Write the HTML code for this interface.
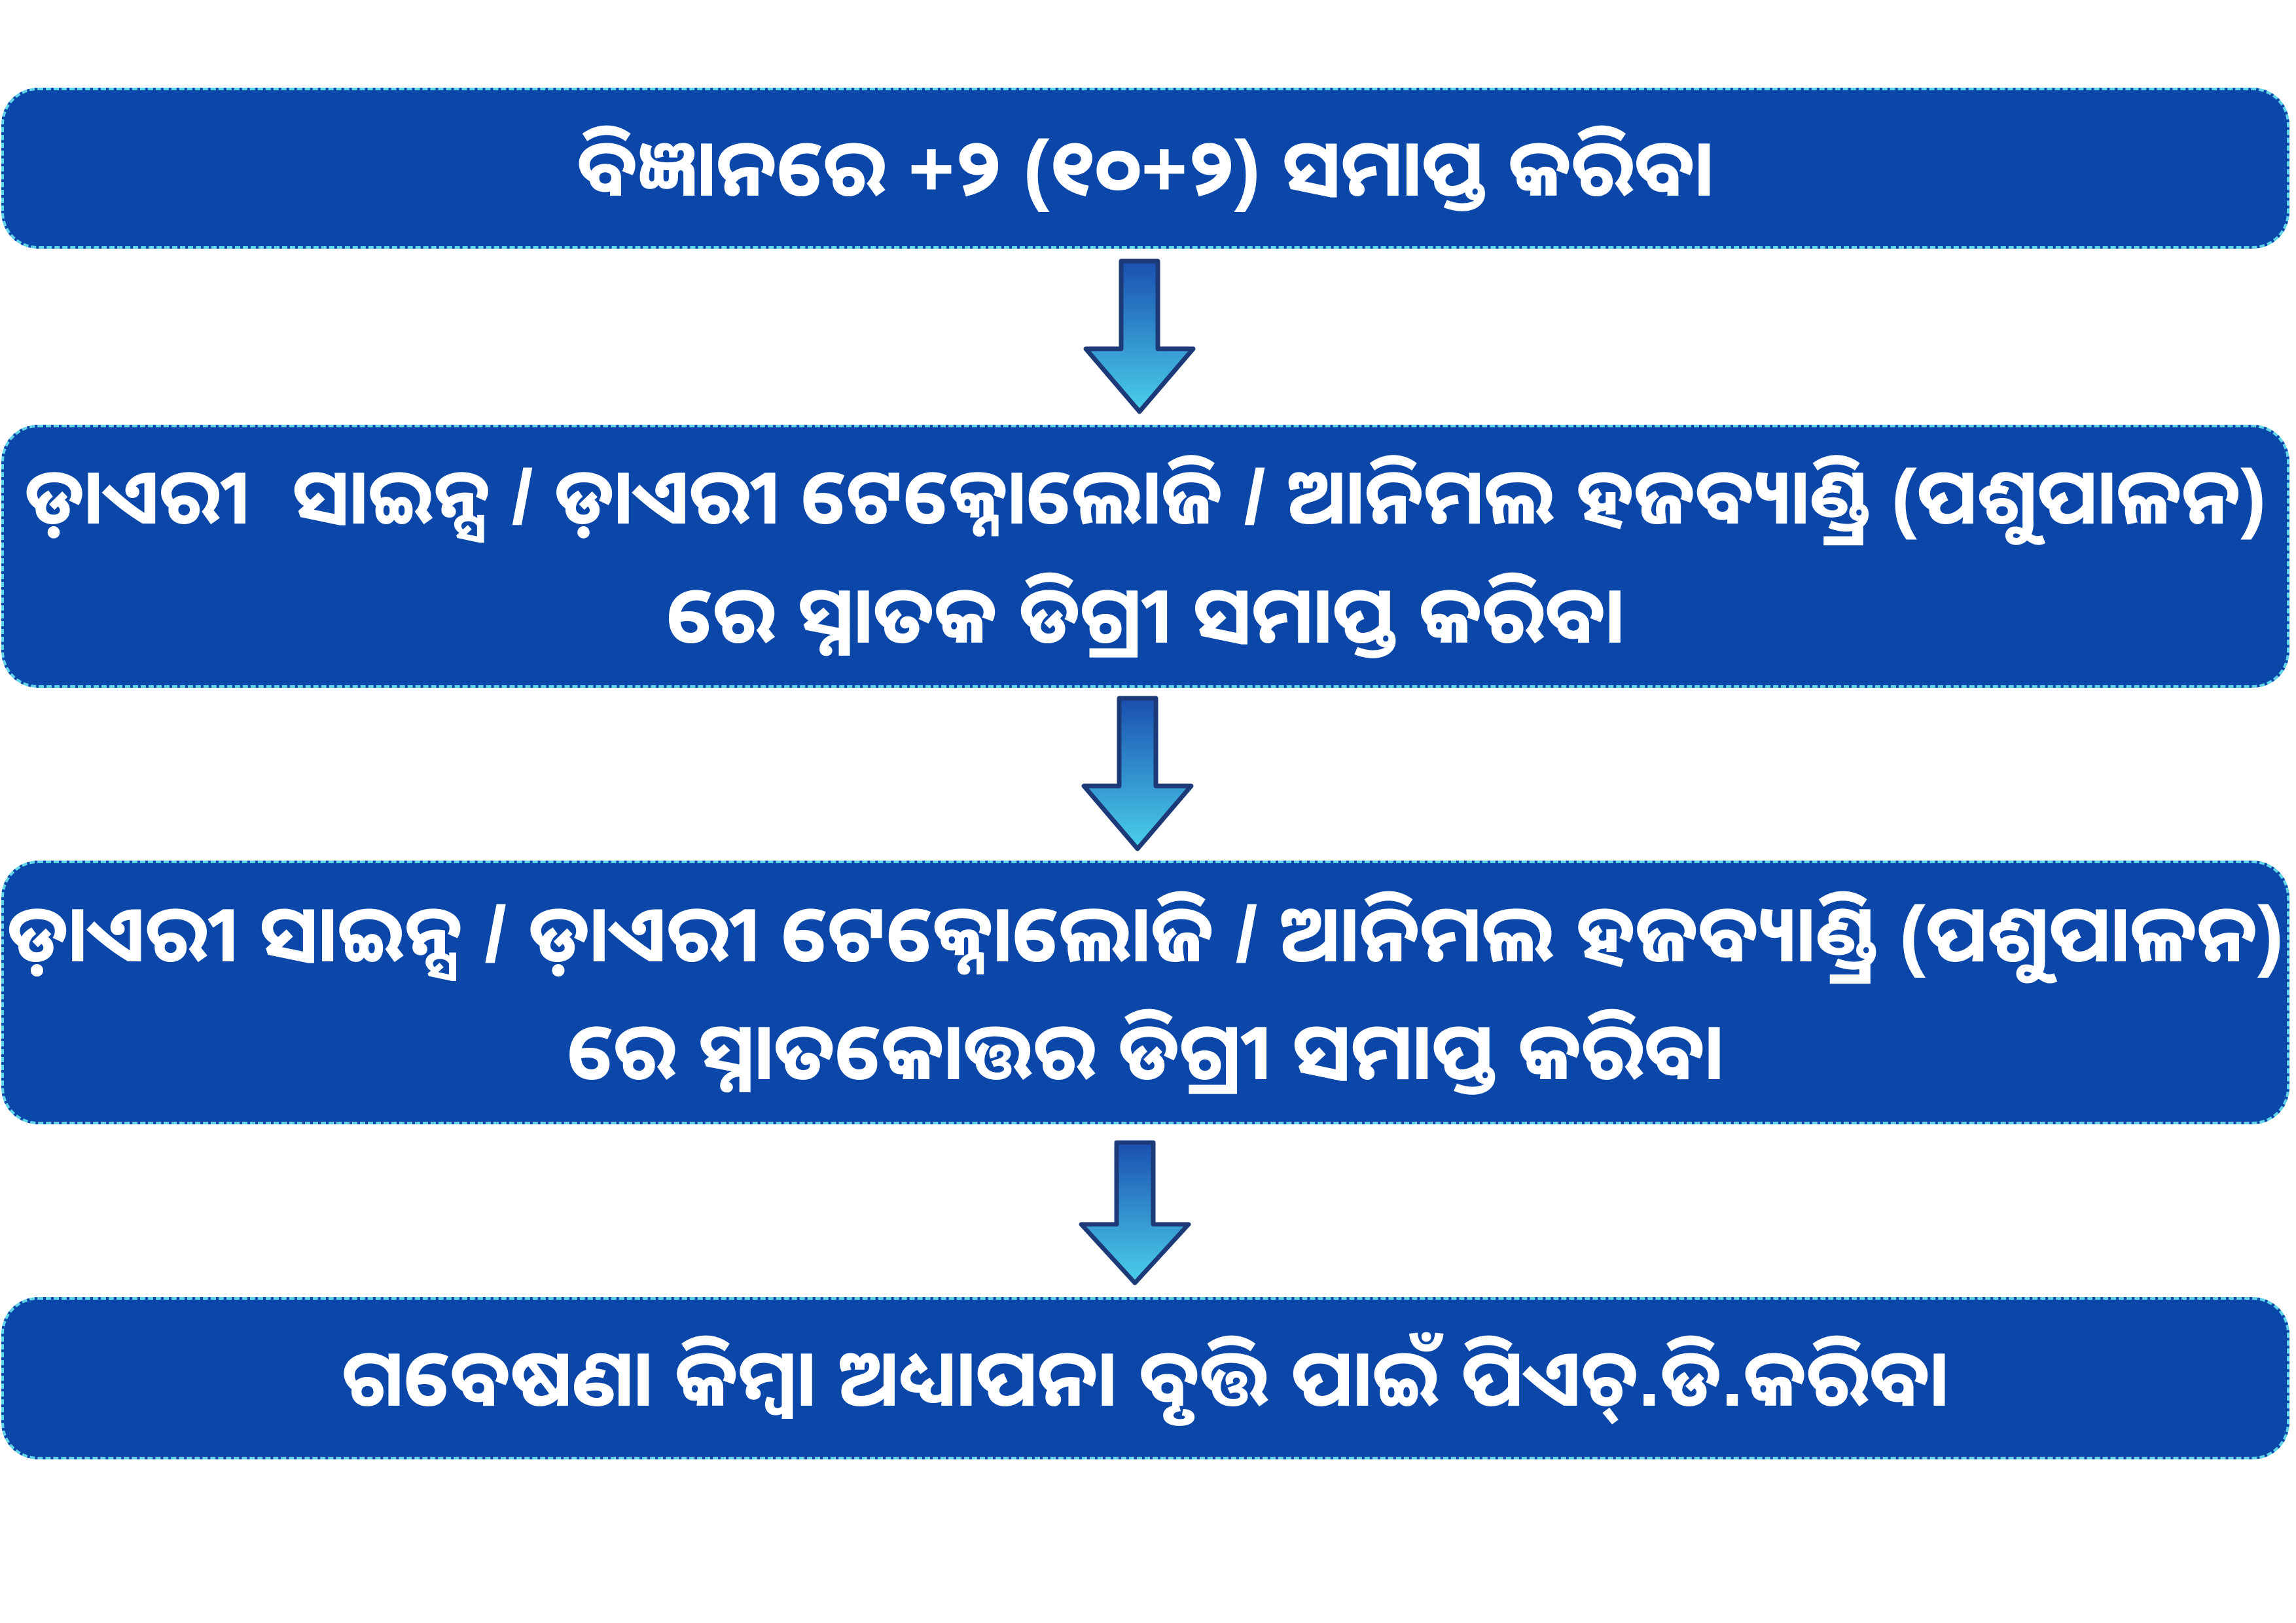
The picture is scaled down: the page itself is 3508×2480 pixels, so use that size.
<!DOCTYPE html>
<html><head><meta charset="utf-8">
<style>
html,body{margin:0;padding:0;background:#fff;}
body{width:3508px;height:2480px;position:relative;overflow:hidden;font-family:"Liberation Sans","Noto Sans Oriya","Noto Sans CJK SC",sans-serif;}
.box{position:absolute;left:2px;width:3496px;background:#0a47a8;border:4px dashed #5fd3e8;border-radius:56px;box-sizing:border-box;color:#fff;font-weight:bold;text-align:center;display:flex;flex-direction:column;justify-content:center;align-items:center;overflow:hidden;}
.box div{font-size:121px;line-height:180px;white-space:nowrap;}
svg{position:absolute;}
</style></head><body>
<div class="box" style="top:134px;height:246px;"><div>ବିଜ୍ଞାନରେ +୨ (୧୦+୨) ସମାପ୍ତ କରିବା</div></div>
<div class="box" style="top:649px;height:402px;"><div style="font-size:118px">ଡ଼ାଏରୀ&nbsp; ସାଇନ୍ସ / ଡ଼ାଏରୀ ଟେକ୍ନୋଲୋଜି / ଆନିମଲ ହଜବ୍ୟାଣ୍ଡ୍ରି (ପଶୁପାଳନ)</div><div>ରେ ସ୍ନାତକ ଡିଗ୍ରୀ ସମାପ୍ତ କରିବା</div></div>
<div class="box" style="top:1315px;height:403px;"><div>ଡ଼ାଏରୀ ସାଇନ୍ସ / ଡ଼ାଏରୀ ଟେକ୍ନୋଲୋଜି / ଆନିମଲ ହଜବ୍ୟାଣ୍ଡ୍ରି (ପଶୁପାଳନ)</div><div>ରେ ସ୍ନାତକୋତ୍ତର ଡିଗ୍ରୀ ସମାପ୍ତ କରିବା</div></div>
<div class="box" style="top:1982px;height:248px;"><div>ଗବେଷଣା କିମ୍ବା ଅଧ୍ୟାପନା ବୃତ୍ତି ପାଇଁ ପିଏଚ୍.ଡି.କରିବା</div></div>

<svg width="0" height="0"><defs><linearGradient id="g" x1="0" y1="0" x2="0" y2="1"><stop offset="0" stop-color="#1a4fb0"/><stop offset="1" stop-color="#4ad0ea"/></linearGradient></defs></svg>
<svg style="left:1651px;top:395px" width="180" height="240" viewBox="0 0 180 240"><polygon points="62,4 118,4 118,138 172,138 90,234 8,138 62,138" fill="url(#g)" stroke="#1d3a78" stroke-width="7" stroke-linejoin="round"/></svg>
<svg style="left:1648px;top:1062px" width="180" height="242" viewBox="0 0 180 240"><polygon points="62,4 118,4 118,138 172,138 90,234 8,138 62,138" fill="url(#g)" stroke="#1d3a78" stroke-width="7" stroke-linejoin="round"/></svg>
<svg style="left:1644px;top:1742px" width="180" height="224" viewBox="0 0 180 240" preserveAspectRatio="none"><polygon points="62,4 118,4 118,138 172,138 90,234 8,138 62,138" fill="url(#g)" stroke="#1d3a78" stroke-width="7" stroke-linejoin="round"/></svg>
</body></html>
